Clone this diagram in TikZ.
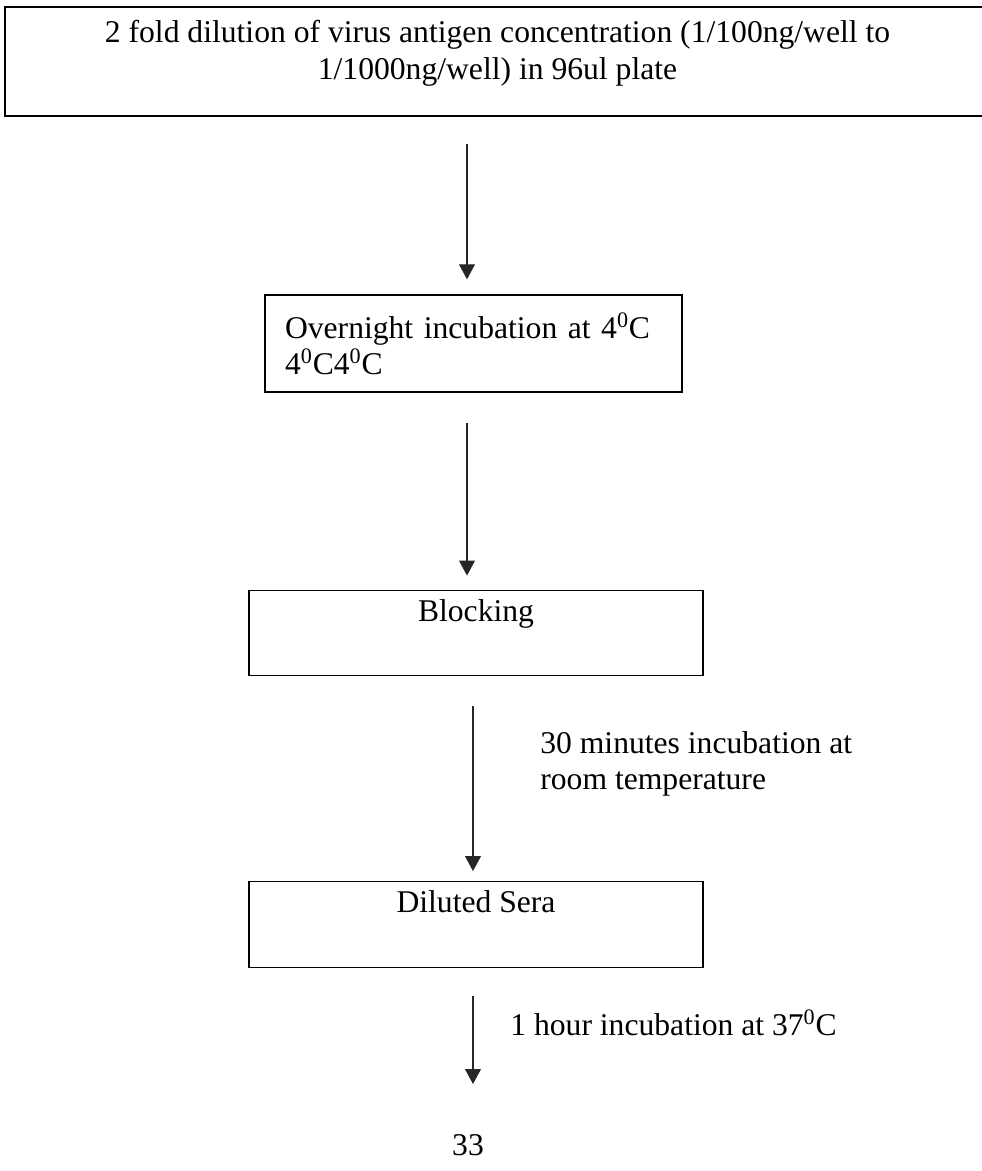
\documentclass[tikz,border=0pt]{standalone}
\usepackage{fontspec}
\setmainfont{Liberation Serif}
\usetikzlibrary{arrows.meta,positioning,calc}

\begin{document}
\begin{tikzpicture}[
  x=0.02cm, y=-0.02cm,
  >={Triangle[width=9pt,length=8.5pt]},
  every node/.style={font=\fontsize{18}{20.7}\selectfont},
  stepbox/.style={rectangle, draw, line width=0.8pt, inner sep=0pt},
  topbox/.style={stepbox, text height=0.43cm, text depth=0.9cm, inner ysep=0.19cm, minimum width=9.08cm},
  note/.style={align=left, inner sep=0pt, anchor=west},
  flow/.style={->, line width=0.6pt, black!85}
]
  \useasboundingbox (0,0) rectangle (982,1171);

  \node[stepbox, line width=1.1pt, minimum width=19.7cm, text height=1.162cm, text depth=0.458cm, inner ysep=0.28cm, align=center] (dil) at (497.5,61.5) {2 fold dilution of virus antigen concentration (1/100ng/well to\\1/1000ng/well) in 96ul plate};

  \node[stepbox, minimum width=8.34cm, minimum height=1.94cm, text width=7.54cm, inner xsep=0.4cm, align=left] (night) at (473.5,343.5) {Overnight incubation at 4\textsuperscript{0}C\\4\textsuperscript{0}C4\textsuperscript{0}C};

  \node[topbox] (block) at (476,633) {Blocking};
  \node[topbox] (sera) at (476,924.5) {Diluted Sera};

  \node[note] (roomtemp) at (540,764) {30 minutes incubation at\\room temperature};
  \node[note] (hourtemp) at (510,1023) {1 hour incubation at 37\textsuperscript{0}C};
  \node[inner sep=0pt] (page) at (468,1145) {33};

  \draw[flow] ($(dil.south)+(-30.5,27)$) -- ($(night.north)+(-6.5,-15)$);
  \draw[flow] ($(night.south)+(-6.5,30)$) -- ($(block.north)+(-9,-14)$);
  \draw[flow] ($(block.south)+(-3,30)$) -- ($(sera.north)+(-3,-10)$);
  \draw[flow] ($(sera.south)+(-3,28)$) -- ($(page.north)+(5,-50)$);
\end{tikzpicture}
\end{document}
